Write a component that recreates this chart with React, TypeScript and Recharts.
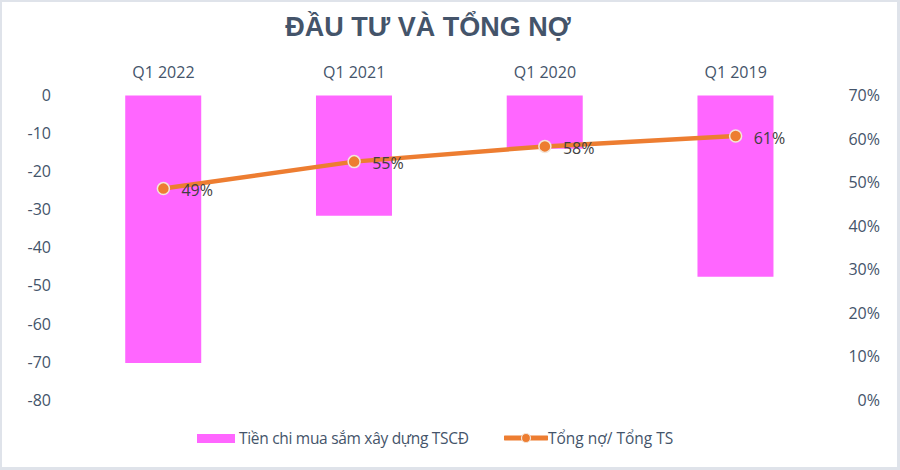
import { Bar, ComposedChart, LabelList, Line, XAxis, YAxis } from "recharts";

const quarters = ["Q1 2022", "Q1 2021", "Q1 2020", "Q1 2019"];
const capex = [-70.3, -31.6, -14, -47.6];
const debtRatio = [0.486, 0.548, 0.583, 0.607];
const leftTicks = [0, -10, -20, -30, -40, -50, -60, -70, -80];
const rightTicks = [0, 0.1, 0.2, 0.3, 0.4, 0.5, 0.6, 0.7];

const data = quarters.map((q, i) => ({ q, capex: capex[i], ratio: debtRatio[i] }));

const FONT = "'Open Sans', sans-serif";
const TEXT = "#44546A";
const PINK = "#FF66FF";
const ORANGE = "#ED7D31";

function XTick({ x, y, payload }: any) {
  return (
    <text x={x} y={y} textAnchor="middle" fill={TEXT} fontSize={16} fontFamily={FONT}>
      {payload.value}
    </text>
  );
}

function LeftTick({ x, y, payload }: any) {
  return (
    <text x={x} y={y} dy="0.355em" textAnchor="end" fill={TEXT} fontSize={16} fontFamily={FONT}>
      {payload.value}
    </text>
  );
}

function RightTick({ x, y, payload }: any) {
  return (
    <text x={x} y={y} dy="0.355em" textAnchor="end" fill={TEXT} fontSize={16} fontFamily={FONT}>
      {Math.round(payload.value * 100)}%
    </text>
  );
}

export default function App() {
  return (
    <div
      style={{
        position: "fixed",
        left: 0,
        top: 0,
        width: 900,
        height: 470,
        background: "#fff",
        fontFamily: FONT,
      }}
    >
      <div
        style={{
          position: "absolute",
          inset: 0,
          border: "2px solid #dfe3ea",
          borderRight: "3px solid #dfe3ea",
          borderBottom: "3px solid #dfe3ea",
          pointerEvents: "none",
          zIndex: 2,
        }}
      />
      <ComposedChart
        width={900}
        height={470}
        data={data}
        margin={{ top: 65, right: 0, bottom: 70, left: 0 }}
        barCategoryGap="30%"
      >
        <text
          x={428}
          y={36}
          textAnchor="middle"
          fill={TEXT}
          fontSize={27}
          fontWeight="bold"
          fontFamily="'Liberation Sans', Arial, sans-serif"
        >
          ĐẦU TƯ VÀ TỔNG NỢ
        </text>
        <XAxis
          dataKey="q"
          orientation="top"
          height={30.5}
          axisLine={false}
          tickLine={false}
          tickMargin={12}
          tick={<XTick />}
          interval={0}
        />
        <YAxis
          yAxisId="left"
          width={68}
          domain={[-80, 0]}
          ticks={leftTicks}
          axisLine={false}
          tickLine={false}
          tickMargin={11}
          tick={<LeftTick />}
          interval={0}
        />
        <YAxis
          yAxisId="right"
          orientation="right"
          width={69}
          domain={[0, 0.7]}
          ticks={rightTicks}
          axisLine={false}
          tickLine={false}
          tickMargin={43}
          tick={<RightTick />}
          interval={0}
        />
        <Bar yAxisId="left" dataKey="capex" fill={PINK} isAnimationActive={false} />
        <Line
          yAxisId="right"
          dataKey="ratio"
          stroke={ORANGE}
          strokeWidth={4.5}
          dot={{ r: 6, fill: ORANGE, stroke: "#F3E6DA", strokeWidth: 1.5 }}
          isAnimationActive={false}
        >
          <LabelList
            dataKey="ratio"
            position="right"
            offset={18}
            dy={2}
            fill="#404040"
            fontSize={16}
            fontFamily={FONT}
            formatter={(v: any) => `${Math.round(v * 100)}%`}
          />
        </Line>
      </ComposedChart>
      <div
        style={{
          position: "absolute",
          top: 427,
          left: 0,
          width: 900,
          fontSize: 15.5,
          color: TEXT,
          lineHeight: "22px",
        }}
      >
        <span style={{ position: "absolute", left: 197, top: 7, width: 38, height: 9, background: PINK }} />
        <span style={{ position: "absolute", left: 239, top: 0, whiteSpace: "nowrap", letterSpacing: -0.3 }}>
          Tiền chi mua sắm xây dựng TSCĐ
        </span>
        <svg style={{ position: "absolute", left: 504, top: 1 }} width={44} height={20}>
          <line x1={1} y1={10} x2={43} y2={10} stroke={ORANGE} strokeWidth={5} strokeLinecap="round" />
          <circle cx={22} cy={10} r={4.5} fill={ORANGE} stroke="#F3E6DA" strokeWidth={1.2} />
        </svg>
        <span style={{ position: "absolute", left: 548, top: 0, whiteSpace: "nowrap" }}>
          Tổng nợ/ Tổng TS
        </span>
      </div>
    </div>
  );
}
